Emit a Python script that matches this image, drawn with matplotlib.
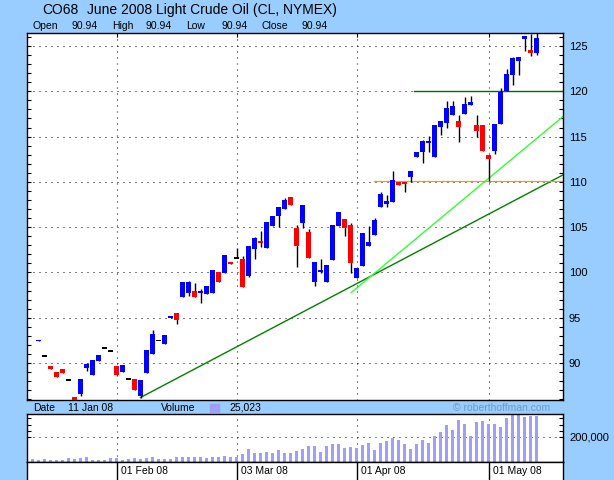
import numpy as np
import matplotlib
matplotlib.use("Agg")
import matplotlib.pyplot as plt
from matplotlib.ticker import MultipleLocator, FixedLocator

plt.rcParams['font.family'] = ['Liberation Sans', 'DejaVu Sans']

# ---------------- data ----------------
# trading-day index 0 = 11 Jan 08 ... 84 = 13 May 08
opens = [np.nan, 92.40, 90.75, 89.70, 89.00, 89.35, 88.13, 86.30, 86.62, 89.50,
         88.72, 90.20, 91.63, 91.33, 89.68, 89.05, 88.24, 88.28, 86.37, 88.95,
         91.00, 92.50, 92.15, 95.00, 95.53, 97.33, 97.70, 97.95, 97.77, 97.66,
         97.77, 100.06, 99.98, 101.16, 101.57, 101.50, 99.61, 102.60, 103.48, 102.74,
         105.13, 106.27, 107.04, 108.33, 104.94, 105.50, 104.50, 99.00, 100.10, 99.00,
         101.41, 105.13, 105.90, 105.24, 99.43, 100.74, 102.92, 104.14, 107.27, 107.56,
         107.82, 110.00, 110.00, 110.57, 112.78, 113.33, 114.33, 112.78, 116.09, 116.54,
         117.38, 116.72, 117.53, 118.49, 116.28, 116.28, 113.00, 113.44, 116.36, 120.03,
         121.80, 123.38, 125.80, 124.56, 124.26]
highs = [np.nan, 92.55, 90.75, 89.70, 89.00, 89.35, 88.13, 86.30, 88.28, 89.98,
         90.34, 90.90, 91.63, 91.33, 89.68, 89.80, 88.24, 88.28, 88.13, 91.45,
         93.65, 92.50, 93.10, 95.20, 95.53, 98.95, 99.10, 98.84, 98.18, 98.50,
         100.28, 100.06, 101.93, 101.16, 102.67, 101.82, 102.92, 103.90, 104.60, 105.57,
         106.24, 107.23, 108.19, 108.33, 105.20, 107.45, 104.80, 101.16, 101.52, 100.83,
         105.24, 106.68, 105.90, 105.46, 100.54, 104.35, 105.13, 105.98, 108.88, 108.55,
         111.20, 110.00, 110.00, 111.20, 113.30, 114.62, 115.07, 116.28, 116.72, 118.93,
         118.93, 117.38, 119.37, 119.48, 117.38, 116.28, 113.00, 116.39, 120.40, 122.46,
         123.82, 123.80, 126.10, 126.32, 126.50]
lows = [np.nan, 92.40, 90.75, 89.35, 88.50, 88.85, 88.13, 85.80, 86.37, 89.16,
        88.72, 90.20, 91.63, 91.33, 88.72, 89.00, 88.24, 87.07, 86.15, 88.95,
        91.00, 92.50, 92.15, 95.00, 94.35, 97.33, 97.40, 97.33, 96.67, 97.66,
        97.77, 98.99, 99.98, 100.97, 101.57, 98.43, 99.54, 101.50, 102.85, 102.74,
        105.13, 105.00, 107.04, 107.48, 100.64, 104.94, 101.63, 98.54, 99.98, 99.00,
        101.41, 105.13, 104.06, 99.98, 99.43, 100.74, 102.92, 104.14, 107.27, 107.27,
        107.82, 109.62, 108.85, 110.02, 112.78, 112.12, 113.33, 112.78, 115.18, 115.98,
        117.38, 114.44, 117.53, 118.49, 114.99, 113.44, 110.10, 113.08, 116.36, 120.03,
        120.70, 121.80, 124.45, 123.90, 124.00]
closes = [np.nan, 92.55, 90.75, 89.35, 88.50, 88.85, 88.13, 85.80, 88.28, 89.90,
          90.34, 90.90, 91.63, 91.33, 88.72, 89.80, 88.24, 87.07, 88.13, 91.45,
          93.21, 92.50, 93.10, 95.20, 94.80, 98.95, 98.95, 97.33, 97.95, 98.50,
          100.28, 98.99, 101.93, 100.97, 101.57, 98.43, 102.92, 103.80, 103.30, 105.57,
          106.24, 107.23, 108.00, 107.48, 102.92, 107.45, 101.63, 101.16, 100.30, 100.83,
          105.24, 106.68, 104.94, 101.08, 100.54, 104.35, 103.37, 105.79, 108.70, 107.89,
          110.17, 109.62, 109.73, 111.20, 113.30, 114.51, 114.51, 116.28, 116.72, 118.16,
          118.38, 116.06, 118.60, 118.82, 115.65, 113.44, 112.56, 116.39, 119.96, 121.90,
          123.64, 123.80, 126.10, 124.26, 125.85]
volumes = [25023, 13300, 21300, 13300, 13300, 13300, 29300, 24000, 32000, 37300,
           18700, 13300, 13300, 29300, 29000, 16000, 24000, 29000, 24000, 32000,
           37000, 21000, 21000, 21000, 37000, 37000, 37000, 43000, 37000, 32000,
           37000, 43000, 51000, 37000, 37000, 61000, 101000, 69000, 69000, 77000,
           69000, 93000, 75000, 69000, 85000, 101000, 125000, 125000, 77000, 125000,
           141000, 141000, 109000, 117000, 112000, 133000, 149000, 93000, 149000, 165000,
           189000, 173000, 141000, 101000, 141000, 173000, 149000, 205000, 237000, 293000,
           256000, 333000, 301000, 205000, 317000, 325000, 301000, 301000, 277000, 349000,
           379000, 373000, 357000, 365000, 365000]

date_idx = [14, 34, 54, 76]
date_labels = ["01 Feb 08", "03 Mar 08", "01 Apr 08", "01 May 08"]

# trend lines (index, price) anchors
dark_trend = [(18.0, 86.20), (88.4, 110.76)]
light_trend = [(53.1, 97.77), (88.4, 117.20)]
resist_120 = (63.6, 120.0)
support_110 = (56.9, 110.1)

# ---------------- layout ----------------
W, H = 614, 480
BG = '#99CCFF'
fig = plt.figure(figsize=(W / 100, H / 100), dpi=100, facecolor=BG)

def fx(x):
    return x / W

def fy(y):
    return 1 - y / H

L, R = 27, 563
xlim = ((L - 32.5) / 6.0, (R - 32.5) / 6.0)

ax = fig.add_axes([fx(L), fy(399.5), (R - L) / W, (399.5 - 33) / H])
axv = fig.add_axes([fx(L), fy(462), (R - L) / W, (462 - 414) / H])
axd = fig.add_axes([fx(L), 0, (R - L) / W, 18 / H])

n = len(closes)
x = np.arange(n)
o = np.array(opens); h = np.array(highs); l = np.array(lows); c = np.array(closes)

# ---------------- price panel ----------------
ax.set_facecolor('white')
ax.set_xlim(*xlim)
ax.set_ylim(85.98, 126.43)

dots = (0, (1, 5))
for p in range(90, 126, 5):
    ax.axhline(p, color='black', lw=0.72, ls=dots, zorder=1)
for d in date_idx:
    ax.axvline(d, color='black', lw=0.72, ls=dots, zorder=1)

valid = ~np.isnan(c)
ax.vlines(x[valid], l[valid], h[valid], color='black', lw=1.0, zorder=3)
minh = 0.17
for i in np.where(valid)[0]:
    diff = c[i] - o[i]
    if abs(diff) < 0.05:
        col = 'black'
        bot, hh = o[i] - 0.09, 0.18
    else:
        col = '#0000FF' if diff > 0 else '#FF0000'
        bot = min(o[i], c[i])
        hh = max(abs(diff), minh)
    ax.bar(x[i], hh, bottom=bot, width=0.8, color=col, linewidth=0, zorder=4)

# trend lines
def extend(p1, p2):
    (x1, y1), (x2, y2) = p1, p2
    s = (y2 - y1) / (x2 - x1)
    return [x1, xlim[1]], [y1, y1 + s * (xlim[1] - x1)]

xs, ys = extend(*dark_trend)
ax.plot(xs, ys, color='#008000', lw=1.0, zorder=2)
xs, ys = extend(*light_trend)
ax.plot(xs, ys, color='#33FF33', lw=1.0, zorder=2)
ax.plot([resist_120[0], xlim[1]], [resist_120[1]] * 2, color='#006E00', lw=1.0, zorder=2)
ax.plot([support_110[0], xlim[1]], [support_110[1]] * 2, color='#FF9900', lw=0.9, zorder=2)

ax.yaxis.set_major_locator(MultipleLocator(5))
ax.yaxis.set_minor_locator(MultipleLocator(1))
ax.set_yticks(range(90, 126, 5))
ax.tick_params(axis='y', which='both', direction='in', left=True, right=True,
               labelleft=False, labelright=True, length=3, width=0.8,
               labelsize=8, pad=4.3)
ax.set_xticks(date_idx)
ax.tick_params(axis='x', which='both', direction='in', top=True, bottom=False,
               labelbottom=False, length=3, width=0.8)
for s in ax.spines.values():
    s.set_linewidth(1.0)

# ---------------- volume panel ----------------
VOLC = '#9F9FF5'
axv.set_facecolor('white')
axv.set_xlim(*xlim)
axv.set_ylim(0, 384000)
axv.bar(x, volumes, width=0.62, color=VOLC, linewidth=0, zorder=2)
axv.axhline(200000, color='black', lw=0.72, ls=dots, zorder=1)
for d in date_idx:
    axv.axvline(d, color='black', lw=0.72, ls=dots, zorder=1)
axv.set_yticks([200000])
axv.set_yticklabels(['200,000'])
axv.yaxis.set_minor_locator(FixedLocator([250000, 300000, 350000]))
axv.tick_params(axis='y', which='both', direction='in', left=True, right=True,
                labelleft=False, labelright=True, length=3, width=0.8,
                labelsize=8, pad=4.3)
axv.set_xticks([])
for s in axv.spines.values():
    s.set_linewidth(1.0)

# ---------------- date strip ----------------
axd.set_facecolor('white')
axd.set_xlim(*xlim)
axd.set_ylim(0, 1)
axd.vlines(date_idx, 0, 1, color='black', lw=1.0)
for d, lab in zip(date_idx, date_labels):
    axd.text(d + 0.75, 0.5, lab, fontsize=7.5, va='center', ha='left')
axd.set_xticks([]); axd.set_yticks([])
axd.spines['bottom'].set_visible(False)
for s in axd.spines.values():
    s.set_linewidth(1.0)

# ---------------- header texts ----------------
fig.text(fx(42.5), fy(10), "CO68", fontsize=10, va='center', ha='left')
fig.text(fx(87), fy(10), "June 2008 Light Crude Oil (CL, NYMEX)", fontsize=10,
         va='center', ha='left')
hdr = [("Open", 32.5), ("90.94", 72), ("High", 112), ("90.94", 146),
       ("Low", 186), ("90.94", 221), ("Close", 261), ("90.94", 301)]
for t, xp in hdr:
    fig.text(fx(xp), fy(26), t, fontsize=7.5, va='center', ha='left')

fig.text(fx(33), fy(408), "Date", fontsize=7.5, va='center', ha='left')
fig.text(fx(68.5), fy(408), "11 Jan 08", fontsize=7.5, va='center', ha='left')
fig.text(fx(160.5), fy(408), "Volume", fontsize=7.5, va='center', ha='left')
fig.patches.append(plt.Rectangle((fx(210), fy(412)), 9 / W, 8 / H,
                                 transform=fig.transFigure, color=VOLC))
fig.text(fx(229), fy(408), "25,023", fontsize=7.5, va='center', ha='left')
fig.text(fx(453), fy(408), "\u00a9 roberthoffman.com", fontsize=7.5,
         va='center', ha='left', color='#6E9AC8')

fig.savefig("out.png", dpi=100, facecolor=BG)
